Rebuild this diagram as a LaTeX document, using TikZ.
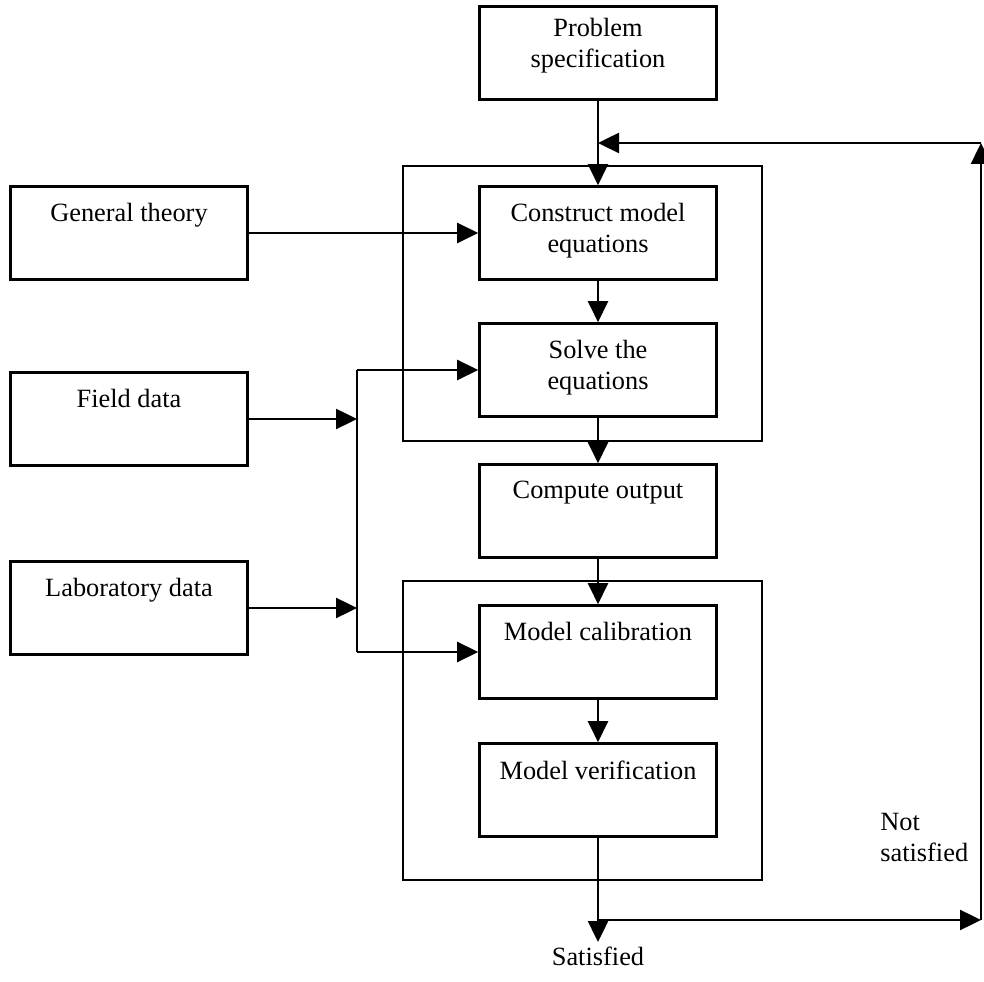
\documentclass[tikz,border=0pt]{standalone}
\usepackage{fontspec}
\setmainfont{Liberation Serif}
\usetikzlibrary{positioning,arrows.meta}
\tikzset{
  blk/.style={rectangle,draw=black,line width=1.5pt,minimum width=4.74cm,minimum height=1.86cm,inner sep=0pt},
  outer/.style={rectangle,draw=black,line width=1.4pt,minimum width=7.18cm,inner sep=0pt},
  lbl/.style={anchor=north,yshift=-3.6mm,inner sep=0pt,align=center,font=\fontsize{15}{17.5}\selectfont},
  txt/.style={inner sep=0pt,font=\fontsize{15}{17.5}\selectfont},
  wire/.style={line width=1.4pt,black},
  flow/.style={-{Triangle[length=4.2mm,width=4mm]},line width=1.4pt,black},
}
\begin{document}
\begin{tikzpicture}[x=0.02cm,y=-0.02cm]
  \useasboundingbox (0,0) rectangle (984,982);
  \node[outer,minimum height=5.5cm](outA) at (582.5,303.5){};
  \node[outer,minimum height=5.98cm](outB) at (582.5,730.5){};
  \node[blk,label={[lbl,yshift=1mm]north:{Problem\\specification}}](prob) at (598,53){};
  \node[blk,label={[lbl]north:{Construct model\\equations}}](cons) at (598,233){};
  \node[blk,label={[lbl]north:{Solve the\\equations}}](solve) at (598,370){};
  \node[blk,label={[lbl]north:Compute output}](comp) at (598,511){};
  \node[blk,label={[lbl]north:Model calibration}](calib) at (598,652){};
  \node[blk,label={[lbl]north:Model verification}](verif) at (598,790){};
  \node[blk,label={[lbl]north:General theory}](theory) at (129,233){};
  \node[blk,label={[lbl]north:Field data}](field) at (129,419){};
  \node[blk,label={[lbl]north:Laboratory data}](lab) at (129,608){};
  \node[txt,anchor=north,inner sep=1mm](sat) at (598,942){Satisfied};
  \node[txt,anchor=north west,align=left](notsat) at (880,813){Not\\satisfied};
  \coordinate (busT) at (357,370); \coordinate (busB) at (357,652);
  \coordinate (split) at (598,920); \coordinate (fbB) at (981,920);
  \coordinate (fbT) at (981,143); \coordinate (merge) at (598,143);
  \draw[flow] (prob) -- (cons); \draw[flow] (cons) -- (solve);
  \draw[flow] (solve) -- (comp); \draw[flow] (comp) -- (calib);
  \draw[flow] (calib) -- (verif); \draw[flow] (verif) -- (sat);
  \draw[flow] (theory) -- (cons);
  \draw[flow] (field) -- (field -| busT); \draw[flow] (lab) -- (lab -| busT);
  \draw[wire] (busT) -- (busB);
  \draw[flow] (busT) -- (busT -| solve.west); \draw[flow] (busB) -- (busB -| calib.west);
  \draw[flow] (split) -- (fbB); \draw[flow] (fbB) -- (fbT); \draw[flow] (fbT) -- (merge);
\end{tikzpicture}
\end{document}
